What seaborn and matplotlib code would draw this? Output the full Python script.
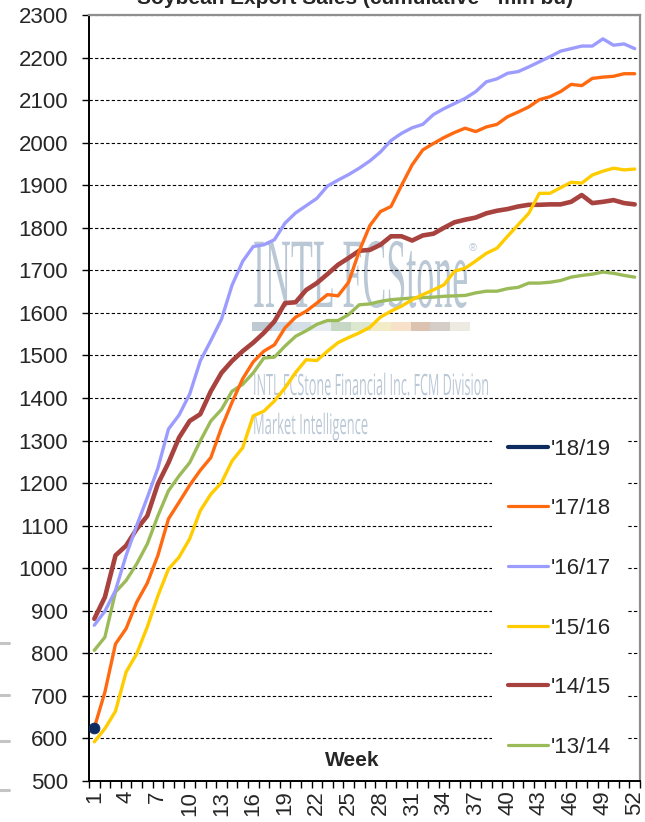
import numpy as np
import pandas as pd
import matplotlib
matplotlib.use("Agg")
import matplotlib.pyplot as plt
import seaborn as sns
import matplotlib.patheffects as pe
from matplotlib.transforms import Affine2D
from matplotlib.lines import Line2D
from matplotlib.patches import Rectangle

# ---------------- data ----------------
weeks = list(range(1, 53))
tick_weeks = list(range(1, 53, 3))
seasons = ["'18/19", "'17/18", "'16/17", "'15/16", "'14/15", "'13/14"]

s1819 = [625]
s1718 = [625, 709, 822, 858, 920, 965, 1030, 1116, 1155, 1195,
         1230, 1260, 1330, 1390, 1445, 1485, 1510, 1525, 1565, 1590,
         1604, 1623, 1643, 1640, 1672, 1745, 1805, 1838, 1850, 1900,
         1948, 1983, 1998, 2012, 2024, 2034, 2026, 2037, 2043, 2061,
         2072, 2084, 2101, 2108, 2120, 2137, 2134, 2151, 2154, 2156,
         2162, 2162]
s1617 = [866, 899, 948, 1030, 1100, 1166, 1235, 1327, 1360, 1409,
         1487, 1535, 1585, 1665, 1721, 1756, 1760, 1772, 1811, 1835,
         1852, 1869, 1898, 1912, 1925, 1940, 1957, 1978, 2005, 2022,
         2035, 2043, 2066, 2080, 2092, 2104, 2120, 2143, 2150, 2163,
         2167, 2178, 2190, 2202, 2215, 2221, 2227, 2227, 2244, 2229,
         2232, 2221]
s1516 = [592, 623, 664, 756, 799, 862, 935, 998, 1026, 1069,
         1135, 1174, 1201, 1252, 1283, 1358, 1369, 1393, 1424, 1460,
         1490, 1488, 1510, 1530, 1542, 1553, 1566, 1590, 1604, 1616,
         1631, 1643, 1654, 1666, 1698, 1705, 1722, 1740, 1752, 1780,
         1807, 1834, 1881, 1881, 1894, 1907, 1905, 1924, 1933, 1940,
         1936, 1938]
s1415 = [881, 932, 1030, 1053, 1092, 1123, 1198, 1248, 1307, 1346,
         1362, 1416, 1459, 1487, 1510, 1530, 1553, 1580, 1623, 1625,
         1654, 1670, 1691, 1713, 1729, 1746, 1748, 1760, 1780, 1780,
         1770, 1782, 1786, 1800, 1813, 1819, 1824, 1834, 1840, 1844,
         1850, 1854, 1854, 1855, 1855, 1861, 1877, 1858, 1861, 1865,
         1858, 1855]
s1314 = [807, 838, 944, 971, 1010, 1057, 1123, 1182, 1217, 1248,
         1299, 1346, 1373, 1416, 1432, 1459, 1494, 1496, 1522, 1545,
         1558, 1573, 1582, 1582, 1596, 1619, 1621, 1627, 1631, 1633,
         1635, 1636, 1637, 1639, 1640, 1641, 1647, 1651, 1651, 1657,
         1660, 1670, 1670, 1672, 1676, 1684, 1688, 1691, 1696, 1693,
         1688, 1684]

series = {"'18/19": s1819, "'17/18": s1718, "'16/17": s1617,
          "'15/16": s1516, "'14/15": s1415, "'13/14": s1314}

colors = {"'18/19": "#0D2B5E", "'17/18": "#FF6A10", "'16/17": "#9C9CFF",
          "'15/16": "#FFCC00", "'14/15": "#A8423F", "'13/14": "#9BBB59"}
lw_main = {"'18/19": 3.0, "'17/18": 2.4, "'16/17": 2.4,
           "'15/16": 2.4, "'14/15": 3.3, "'13/14": 2.4}
lw_leg = {"'18/19": 3.0, "'17/18": 2.3, "'16/17": 2.3,
          "'15/16": 2.3, "'14/15": 3.0, "'13/14": 2.3}

rows = []
for name, vals in series.items():
    for w, v in zip(weeks, vals):
        rows.append({"season": name, "week": w, "pos": w - 1, "value": v})
df = pd.DataFrame(rows)

# ---------------- style ----------------
sns.set_style("white")
plt.rcParams["font.family"] = ["Liberation Sans", "DejaVu Sans"]

W, H = 645, 822
fig = plt.figure(figsize=(W / 100, H / 100), dpi=100)
L, R, T, B = 89, 640, 15, 781
ax = fig.add_axes([L / W, 1 - B / H, (R - L) / W, (B - T) / H])

def axx(px):
    return (px - L) / (R - L)

def axy(py):
    return (B - py) / (B - T)

# ---------------- lines ----------------
draw_order = ["'13/14", "'14/15", "'15/16", "'16/17", "'17/18"]
for name in draw_order:
    sub = df[df["season"] == name]
    sns.lineplot(data=sub, x="pos", y="value", color=colors[name],
                 linewidth=lw_main[name], ax=ax, legend=False, zorder=3,
                 solid_capstyle="round", solid_joinstyle="round")
sub = df[df["season"] == "'18/19"]
sns.scatterplot(data=sub, x="pos", y="value", color=colors["'18/19"],
                edgecolor=colors["'18/19"], s=60, ax=ax, legend=False, zorder=5)

# ---------------- axes ----------------
ax.set_xlim(-0.5, 51.5)
ax.set_ylim(500, 2300)
ax.set_yticks(range(500, 2301, 100))
ax.set_xticks([w - 1 for w in tick_weeks])
ax.set_xticklabels([str(w) for w in tick_weeks], rotation=90)
ax.set_xticks(np.arange(-0.5, 52, 1), minor=True)
ax.tick_params(axis="x", which="major", length=0, pad=7, labelsize=16)
ax.tick_params(axis="x", which="minor", length=5, width=1, direction="out",
               color="black", bottom=True)
ax.tick_params(axis="y", which="major", length=5, width=1, direction="out",
               color="black", pad=10, labelsize=16, left=True)
ax.set_xlabel("")
ax.set_ylabel("")
ax.set_axisbelow(True)
ax.yaxis.grid(True, linestyle=(0, (3, 2)), color="black", linewidth=0.8)
ax.xaxis.grid(False)
for sp in ["left", "bottom"]:
    ax.spines[sp].set_color("black")
    ax.spines[sp].set_linewidth(1.4)
for sp in ["top", "right"]:
    ax.spines[sp].set_color("#8E8E8E")
    ax.spines[sp].set_linewidth(1.6)

ax.text(axx(352), axy(760), "Week", transform=ax.transAxes, ha="center",
        va="center", fontsize=15, fontweight="bold")

# ---------------- watermark ----------------
class VStretch(pe.AbstractPathEffect):
    def __init__(self, sy=1.0):
        super().__init__()
        self.sy = sy

    def draw_path(self, renderer, gc, tpath, affine, rgbFace=None):
        renderer.draw_path(gc, tpath, Affine2D().scale(1, self.sy) + affine, rgbFace)

wm_color = "#BAC8D6"
wm_specs = [
    # text, left px, baseline px, target width px, target cap px, family, cap ratio
    ("INTL FCStone", 253, 307, 215, 66, "Liberation Serif", 0.662),
    ("INTL FCStone Financial Inc. FCM Division", 253, 395, 236, 21, "Open Sans", 0.714),
    ("Market Intelligence", 253, 434, 115, 20, "Open Sans", 0.714),
]
wm_texts = []
for txt, lx, by, tw, tc, fam, cr in wm_specs:
    eff = VStretch(1.0)
    t = ax.text(axx(lx), axy(by), txt, transform=ax.transAxes, ha="left",
                va="baseline", fontsize=20, family=[fam, "DejaVu Sans"],
                color=wm_color, zorder=0.2, path_effects=[eff])
    wm_texts.append((t, eff, tw, tc, cr))
ax.text(axx(469), axy(251), "\u00ae", transform=ax.transAxes, ha="left",
        va="baseline", fontsize=8, color=wm_color, zorder=0.2)

band_cols = ["#BFC9D2", "#C8D8E6", "#D3DEE7", "#E6ECEF", "#C6D8C5", "#DCE7CF",
             "#F2EDC6", "#F7E2C9", "#DCC2B1", "#D5CEC8", "#ECEAE1"]
bx0, bx1 = axx(252), axx(470)
bw = (bx1 - bx0) / len(band_cols)
for i, c in enumerate(band_cols):
    ax.add_patch(Rectangle((bx0 + i * bw, axy(331)), bw, axy(322) - axy(331),
                           transform=ax.transAxes, facecolor=c, edgecolor="none",
                           zorder=0.2))

# ---------------- legend ----------------
handles = [Line2D([0], [0], color=colors[s], linewidth=lw_leg[s],
                  solid_capstyle="round") for s in seasons]
leg = ax.legend(handles, seasons, loc="upper left",
                bbox_to_anchor=(axx(492), axy(423)), borderaxespad=0,
                frameon=True, facecolor="white", edgecolor="none", framealpha=1,
                fontsize=16, labelspacing=1.74, handlelength=1.8,
                handletextpad=0.15, borderpad=0.7)
leg.set_zorder(4)

# ---------------- title / edge decorations ----------------
fig.text(355 / W, 1 - 4 / H, "Soybean Export Sales (cumulative - mln bu)",
         ha="center", va="baseline", fontsize=15, fontweight="bold")
for gy in [643, 695, 741, 790]:
    fig.add_artist(Line2D([0, 9 / W], [1 - gy / H, 1 - gy / H],
                          color="#C4C4C4", linewidth=2.2))

# fit watermark texts to their target boxes
fig.canvas.draw()
r = fig.canvas.get_renderer()
for t, eff, tw, tc, cr in wm_texts:
    w = t.get_window_extent(r).width
    fs = t.get_fontsize() * tw / w
    t.set_fontsize(fs)
    eff.sy = tc / (cr * fs * 100 / 72)

fig.savefig("out.png", dpi=100)
